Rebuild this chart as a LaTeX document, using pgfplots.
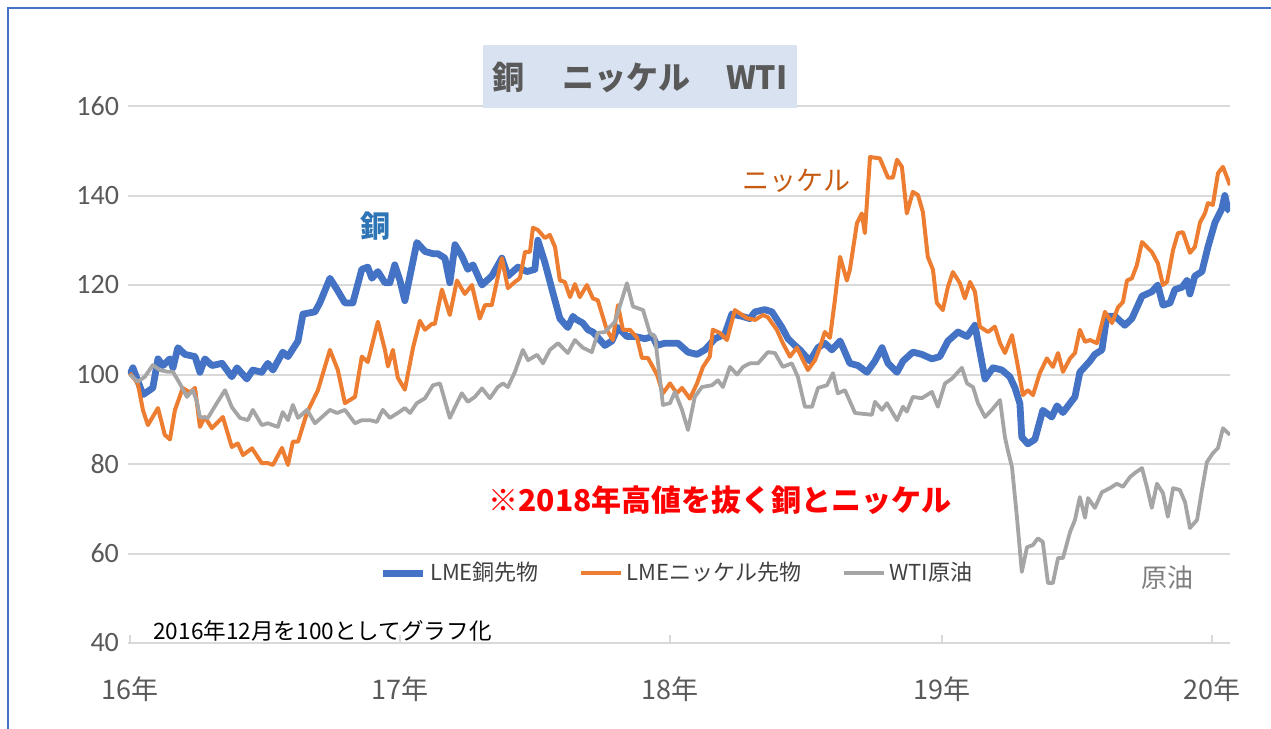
\documentclass[border=0pt]{standalone}
\usepackage{fontspec}
\setmainfont{Noto Sans CJK JP}
\newfontfamily\calfont{Carlito}
\usepackage{pgfplots}
\pgfplotsset{compat=1.18}
\definecolor{cu}{HTML}{4472C4}
\definecolor{ni}{HTML}{ED7D31}
\definecolor{oil}{HTML}{A5A5A5}
\definecolor{gridc}{HTML}{D9D9D9}
\definecolor{txt}{HTML}{595959}
\definecolor{legtxt}{HTML}{404040}
\definecolor{titlebg}{HTML}{D9E2F1}
\definecolor{nilab}{HTML}{C55A11}
\definecolor{culab}{HTML}{2E75B6}
\definecolor{frame}{HTML}{4472C4}
\definecolor{redtxt}{HTML}{FF0000}
\definecolor{oiltxt}{HTML}{7F7F7F}

\pgfplotstableread{
x y
0 100
0.011 101.5
0.048 95.5
0.084 97
0.103 103.5
0.121 102
0.147 103.5
0.158 101.5
0.176 106
0.202 104.5
0.239 104
0.257 100.5
0.275 103.5
0.301 102
0.338 102.5
0.374 99.5
0.393 101.5
0.429 99
0.451 101
0.484 100.5
0.506 102.5
0.525 101
0.561 105
0.580 104
0.617 107.5
0.635 113.5
0.679 114
0.697 116
0.734 121.5
0.760 119
0.789 116
0.818 116
0.851 123.5
0.873 124
0.888 121.5
0.910 123
0.936 120.5
0.954 120.5
0.972 124.5
0.991 121
1.009 116.5
1.053 129.5
1.083 127.5
1.112 127
1.130 127
1.156 126
1.174 120.5
1.193 129
1.218 126.5
1.240 123.5
1.259 124.5
1.292 120
1.328 122
1.365 126
1.387 122
1.424 124
1.457 123
1.486 123.5
1.497 130
1.523 125
1.549 119
1.578 112.5
1.607 110.5
1.626 113
1.633 112.5
1.662 111.5
1.681 110
1.699 109.5
1.743 106.5
1.769 107.5
1.791 110.5
1.824 108.5
1.853 108.5
1.890 108
1.919 108.5
1.934 106.5
1.963 107
2.011 107
2.048 105
2.081 104.5
2.110 105.5
2.147 108
2.183 109
2.209 113.5
2.246 113
2.275 112.5
2.294 114
2.330 114.5
2.356 114
2.393 110.5
2.415 108
2.440 106.5
2.459 105.5
2.495 103
2.525 106
2.550 107
2.576 105.5
2.606 107.5
2.642 102.5
2.672 102
2.705 100.5
2.734 103
2.760 106
2.782 102.5
2.815 100.5
2.837 103
2.873 105
2.906 104.5
2.943 103.5
2.972 104
3.002 107.5
3.039 109.5
3.072 108.5
3.101 111
3.138 99
3.167 101.5
3.200 101
3.229 99.5
3.248 97
3.266 93.5
3.273 86
3.295 84.5
3.321 85.5
3.350 92
3.383 90.5
3.402 93
3.424 91.5
3.468 95
3.486 100.5
3.523 103
3.541 104.5
3.567 105.5
3.585 113
3.615 113
3.651 111
3.677 112.5
3.714 117.5
3.750 118.5
3.772 120
3.791 115.5
3.817 116
3.835 119
3.861 119.5
3.879 121
3.890 118
3.908 122
3.934 123
3.956 128.5
3.982 134
4.007 137
4.018 140
4.029 137
4.037 136.5
}\copper

\pgfplotstableread{
x y
0 100.3
0.029 98
0.048 92
0.066 88.7
0.103 92.5
0.128 86.5
0.147 85.5
0.165 92
0.194 97
0.220 96
0.239 97
0.257 88.3
0.275 90.5
0.301 88
0.341 90.5
0.374 83.8
0.396 84.6
0.415 82
0.448 83.5
0.484 80.2
0.506 80.2
0.525 79.8
0.558 83.6
0.580 79.8
0.598 85
0.617 85
0.650 91.5
0.690 96.5
0.734 105.5
0.763 101
0.789 93.6
0.826 95
0.851 104
0.873 102.8
0.910 111.8
0.936 105.5
0.947 101.8
0.965 105.5
0.983 99.3
1.009 96.6
1.039 106
1.064 112
1.083 110
1.108 111.3
1.119 111.3
1.145 119
1.174 113.3
1.200 121
1.229 118
1.255 120
1.284 112.5
1.303 115.5
1.328 115.5
1.365 126
1.387 119.3
1.413 120.7
1.431 121.5
1.450 127.4
1.468 127.4
1.479 132.8
1.497 132.3
1.523 130.5
1.541 131.2
1.560 128.5
1.578 121
1.596 120.7
1.615 117.3
1.633 120.2
1.651 117.3
1.677 120
1.699 117
1.717 116.6
1.750 110
1.772 107.7
1.791 115.5
1.809 110
1.835 110
1.861 108.2
1.879 103.7
1.901 103.7
1.934 100
1.956 95.8
1.982 98
2.007 95.8
2.026 97
2.055 94.6
2.081 98
2.103 101.7
2.128 104
2.139 110
2.165 109.3
2.191 107.7
2.220 114.4
2.264 112.6
2.294 112.2
2.323 113.3
2.341 112.8
2.374 110
2.396 107
2.422 104
2.448 106
2.470 103.2
2.488 101
2.514 103.2
2.532 106
2.550 109.5
2.569 108.2
2.587 116.6
2.606 126.3
2.631 121
2.642 123.4
2.668 133.8
2.686 136
2.697 131.6
2.716 148.6
2.752 148.3
2.782 144
2.800 144
2.815 148
2.833 146.4
2.851 136
2.873 140.8
2.892 140.1
2.910 136.3
2.928 126.3
2.947 123.4
2.961 116
2.983 114.4
3.002 119.6
3.020 122.9
3.046 120.4
3.064 117
3.083 120.7
3.101 118.5
3.119 110.7
3.149 109.5
3.174 110.7
3.193 107
3.211 104.8
3.237 108.8
3.259 101.7
3.277 95.4
3.295 96.5
3.314 95.4
3.339 100.3
3.365 103.6
3.387 101.7
3.406 104.8
3.424 100.6
3.450 103.6
3.468 104.8
3.486 110
3.505 107.3
3.523 107.7
3.549 107
3.578 114
3.604 111.5
3.626 115
3.644 116.2
3.659 121
3.677 121.5
3.695 124.4
3.714 129.6
3.750 127.4
3.772 124.9
3.791 120
3.806 120.7
3.828 127.8
3.846 131.6
3.864 131.8
3.890 127.2
3.908 128.5
3.927 134
3.945 136
3.956 138.3
3.974 137.9
3.993 145
4.011 146.4
4.037 142.3
}\nickel

\pgfplotstableread{
x y
0 100
0.029 98.4
0.055 99.5
0.084 102.1
0.110 101
0.139 100.6
0.158 100.6
0.183 98
0.209 95
0.231 96.5
0.246 93.9
0.257 90.5
0.286 90.3
0.319 93.6
0.349 96.5
0.374 92.7
0.404 90.3
0.433 89.8
0.451 92.1
0.484 88.7
0.506 89.1
0.543 88.3
0.561 91.6
0.580 89.8
0.598 93.2
0.617 90.3
0.650 92.1
0.679 89.1
0.705 90.5
0.734 92.1
0.760 91.4
0.789 92.1
0.826 89.1
0.851 89.8
0.881 89.8
0.906 89.4
0.928 92.1
0.954 90.3
0.983 91.4
1.009 92.5
1.028 91.4
1.053 93.6
1.083 94.7
1.112 97.6
1.138 98
1.174 90.3
1.200 93.6
1.218 95.8
1.240 93.9
1.266 95
1.292 96.9
1.321 94.7
1.350 97.2
1.369 98
1.387 97.2
1.413 100.6
1.442 105.5
1.461 103.2
1.494 104.4
1.516 102.5
1.541 105.5
1.571 107
1.607 104.8
1.633 107.7
1.662 106
1.695 105
1.717 109.3
1.743 109.5
1.780 111.8
1.824 120.4
1.846 115.2
1.883 114.4
1.908 109.3
1.927 108.4
1.956 93.2
1.982 93.6
2.000 96.1
2.026 92.1
2.048 87.6
2.073 95
2.099 97.2
2.136 97.6
2.158 98.7
2.176 97.2
2.202 101.7
2.228 100
2.250 101.7
2.275 102.5
2.305 102.5
2.341 105
2.367 104.8
2.396 101.7
2.429 102.5
2.451 99.5
2.477 92.8
2.503 92.8
2.525 97
2.558 97.6
2.580 100.3
2.598 95.8
2.624 96.5
2.661 91.4
2.723 91
2.734 93.9
2.760 92.1
2.778 93.6
2.815 89.8
2.837 92.8
2.851 91.7
2.873 95
2.906 94.7
2.943 96.1
2.965 92.8
2.991 98
3.017 99.1
3.053 101.5
3.072 98
3.094 97.2
3.112 93.6
3.138 90.5
3.163 92.1
3.193 94.3
3.211 86
3.222 83
3.237 79.3
3.255 68.2
3.273 55.9
3.292 61.4
3.314 61.9
3.332 63.4
3.350 62.6
3.369 53.4
3.387 53.4
3.406 59
3.424 59
3.450 64.8
3.468 67.5
3.486 72.6
3.505 68
3.516 72.4
3.541 70.2
3.567 73.7
3.596 74.6
3.622 75.6
3.644 74.9
3.670 77.1
3.688 78
3.714 79.1
3.732 74.9
3.750 70.2
3.769 75.6
3.791 73.5
3.809 68.2
3.828 74.6
3.853 74.2
3.872 71.5
3.890 65.7
3.916 67.5
3.934 74.2
3.952 80.4
3.974 82.4
3.993 83.6
4.011 88
4.037 86.5
}\wti

\begin{document}
\begin{tikzpicture}
\path[use as bounding box] (0,0) rectangle (635.5pt,-364.5pt);
\draw[frame, line width=1pt] (4pt,-370pt) -- (4pt,-4pt) -- (640pt,-4pt);
\begin{axis}[
  at={(64pt,-321.5pt)}, anchor=south west,
  scale only axis, width=551pt, height=268.5pt,
  xmin=-0.007, xmax=4.037, ymin=40, ymax=160,
  axis line style={draw=none},
  tick pos=left,
  xtick={0,0.991,1.982,2.98,3.971},
  xticklabels={16年,17年,18年,19年,20年},
  ytick={40,60,...,160},
  ymajorgrids, grid style={gridc, line width=1pt},
  tick align=inside, major tick length=4pt,
  xtick style={draw=gridc, line width=1pt},
  ytick style={draw=none},
  /pgf/number format/assume math mode=true,
  xticklabel style={font=\fontsize{13.5}{15}\selectfont, text=txt, yshift=-13.5pt},
  yticklabel style={font=\calfont\fontsize{14}{15}\selectfont, text=txt, xshift=-1pt},
  legend columns=3,
  legend style={at={(0.499,0.130)}, anchor=center, draw=none, fill=none,
    font=\fontsize{11}{13}\selectfont, text=legtxt,
    /tikz/every even column/.append style={column sep=18pt}},
  legend image code/.code={\draw[#1] (0pt,0pt) -- (20pt,0pt);},
  line join=round,
]
\addplot[cu, line width=3.4pt] table[x=x,y=y] {\copper};
\addlegendentry{LME銅先物}
\addplot[ni, line width=2pt] table[x=x,y=y] {\nickel};
\addlegendentry{LMEニッケル先物}
\addplot[oil, line width=1.9pt] table[x=x,y=y] {\wti};
\addlegendentry{WTI原油}
\end{axis}
\fill[titlebg] (241.5pt,-22.5pt) rectangle (398.5pt,-54pt);
\node[text=txt, font=\bfseries\fontsize{16}{18}\selectfont] at (320pt,-38.5pt) {銅\hspace{1.2em}ニッケル\hspace{1.1em}WTI};
\node[text=culab, font=\bfseries\fontsize{15}{17}\selectfont] at (187.5pt,-113pt) {銅};
\node[text=nilab, font=\fontsize{13.5}{15}\selectfont] at (398pt,-90.5pt) {ニッケル};
\node[text=redtxt, font=\bfseries\fontsize{15}{17}\selectfont] at (360pt,-250pt) {※2018年高値を抜く銅とニッケル};
\node[text=oiltxt, font=\fontsize{13}{15}\selectfont] at (583.5pt,-289pt) {原油};
\node[anchor=west, inner sep=0pt, text=black, font=\fontsize{11.3}{13}\selectfont] at (76.5pt,-315.5pt) {2016年12月を100としてグラフ化};
\end{tikzpicture}
\end{document}
